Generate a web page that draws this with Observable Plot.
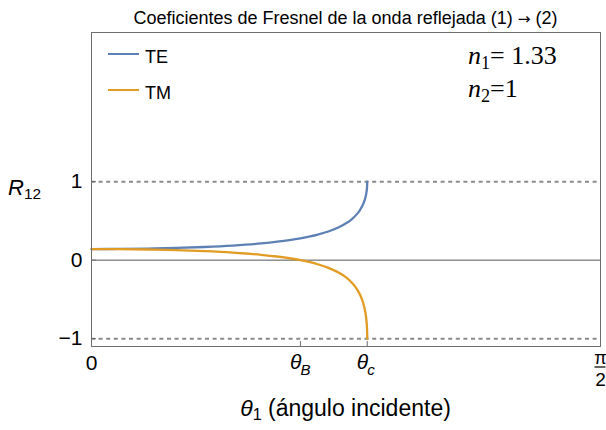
<!DOCTYPE html>
<html><head><meta charset="utf-8">
<script src="https://cdn.jsdelivr.net/npm/d3@7"></script>
<script src="https://cdn.jsdelivr.net/npm/@observablehq/plot@0.6"></script>
<style>
body{margin:0;background:#fff;}
#wrap{position:relative;width:606px;height:430px;font-family:"Liberation Sans",Arial,sans-serif;color:#000;overflow:hidden;}
#wrap svg{position:absolute;left:0;top:0;}
.lbl{position:absolute;white-space:nowrap;line-height:1;}
.lbl sub{font-size:70%;vertical-align:-0.25em;line-height:0;}
.serif{font-family:"Liberation Serif","Times New Roman",serif;}
.arrow{font-family:"DejaVu Sans",sans-serif;font-size:85%;}
.sw{position:absolute;height:0;border-top:2px solid;}
</style></head><body><div id="wrap"></div>
<script>
// incidence angle θ1 (radians)
const thetaRad = [0, 0.08727, 0.17453, 0.26180, 0.34907, 0.43633, 0.52360, 0.61087, 0.64470,
  0.69813, 0.73304, 0.76794, 0.78540, 0.80285, 0.82030, 0.82903, 0.83776, 0.84299, 0.84648,
  0.84910, 0.85032, 0.85067, 0.85091];
const rTE = [0.1416, 0.1431, 0.1476, 0.1555, 0.1678, 0.1861, 0.2133, 0.2551, 0.2780,
  0.3252, 0.3685, 0.4286, 0.4690, 0.5210, 0.5925, 0.6417, 0.7082, 0.7647, 0.8183,
  0.8802, 0.9301, 0.9555, 1.0];
const rTM = [0.1416, 0.1402, 0.1357, 0.1277, 0.1152, 0.0966, 0.0685, 0.0243, 0.0,
  -0.0522, -0.1012, -0.1713, -0.2200, -0.2844, -0.3769, -0.4429, -0.5359, -0.6183, -0.6996,
  -0.7974, -0.8796, -0.9227, -1.0];
const seriesNames = ["TE", "TM"];
const seriesColors = ["#5E81B5", "#E19C24"];
const yTicks = [-1, 0, 1];
const guideLevels = [-1, 1];
const zeroLevel = [0];
const xTicks = [0, 0.6447, 0.8509, 1.5708];
const xTickMain = ["0", "θ", "θ", "π"];
const xTickSub = ["", "B", "c", ""];
const xTickDen = ["", "", "", "2"];
const xDomain = [0, 1.5708];
const yDomain = [-1.1, 2.9];
const titleText = "Coeficientes de Fresnel de la onda reflejada (1) <span class='arrow'>→</span> (2)";
const n1Value = "1.33", n2Value = "1";

const data = thetaRad.flatMap((t, i) => [
  {t, r: rTE[i], s: seriesNames[0]},
  {t, r: rTM[i], s: seriesNames[1]}
]);
const xRows = xTicks.map((v, i) => ({v, main: xTickMain[i], sub: xTickSub[i], den: xTickDen[i]}));
const font = "'Liberation Sans', Arial, sans-serif";

const svg = Plot.plot({
  width: 606, height: 430,
  marginTop: 32, marginRight: 6, marginBottom: 84, marginLeft: 91,
  x: {domain: xDomain},
  y: {domain: yDomain},
  color: {domain: seriesNames, range: seriesColors},
  style: {fontFamily: font, background: "white", color: "#000"},
  marks: [
    Plot.ruleY(guideLevels, {stroke: "#8a8a8a", strokeWidth: 2, strokeDasharray: "4,3.6"}),
    Plot.ruleY(zeroLevel, {stroke: "#555", strokeWidth: 1}),
    Plot.line(data, {x: "t", y: "r", z: "s", stroke: "s", strokeWidth: 2.3, curve: "monotone-x"}),
    Plot.frame({stroke: "#6e6e6e"}),
    Plot.axisY(yTicks, {tickSize: -5, tickPadding: 14, tickFormat: d3.format("d"), stroke: "#6e6e6e", fill: "#000", fontSize: 21, label: null}),
    Plot.axisX(xTicks, {tickSize: -5, tickFormat: () => "", stroke: "#6e6e6e", label: null}),
    Plot.text(xRows.filter(d => !d.sub && !d.den), {x: "v", text: "main", frameAnchor: "bottom", lineAnchor: "top", dy: 9, fontSize: 21}),
    Plot.text(xRows.filter(d => d.sub), {x: "v", text: "main", frameAnchor: "bottom", lineAnchor: "top", dy: 8, dx: 1, textAnchor: "end", fontSize: 21, fontStyle: "italic"}),
    Plot.text(xRows.filter(d => d.sub), {x: "v", text: "sub", frameAnchor: "bottom", lineAnchor: "top", dy: 18, dx: 0, textAnchor: "start", fontSize: 15, fontStyle: "italic"}),
    Plot.text(xRows.filter(d => d.den), {x: "v", text: "main", frameAnchor: "bottom", lineAnchor: "bottom", dy: 17, fontSize: 18}),
    Plot.text(xRows.filter(d => d.den), {x: "v", text: "den", frameAnchor: "bottom", lineAnchor: "top", dy: 26, fontSize: 19})
  ]
});
const wrap = document.getElementById("wrap");
wrap.appendChild(svg);

// fraction bar under π, placed with the plot's own scales
{
  const px = svg.scale("x").apply(xTicks[3]);
  const py = svg.scale("y").apply(yDomain[0]) + 21;
  d3.select(svg).append("line")
    .attr("x1", px - 5.5).attr("x2", px + 5.5)
    .attr("y1", py).attr("y2", py)
    .attr("stroke", "#000").attr("stroke-width", 1.2);
}

function addLabel(html, css, cls) {
  const d = document.createElement("div");
  d.className = "lbl" + (cls ? " " + cls : "");
  d.innerHTML = html;
  Object.assign(d.style, css);
  wrap.appendChild(d);
  return d;
}
addLabel(titleText, {left: "91px", width: "509px", textAlign: "center", top: "8.5px", fontSize: "18px"});
// legend
seriesNames.forEach((name, i) => {
  const top = [54, 90][i];
  const sw = document.createElement("div");
  sw.className = "sw";
  Object.assign(sw.style, {left: "108px", width: "31px", top: (top - 1) + "px", borderTopColor: seriesColors[i]});
  wrap.appendChild(sw);
  addLabel(name, {left: "145px", top: (top - 6) + "px", fontSize: "18px"});
});
addLabel("<i>n</i><sub>1</sub>= " + n1Value, {left: "468px", top: "42.7px", fontSize: "26px"}, "serif");
addLabel("<i>n</i><sub>2</sub>=" + n2Value, {left: "468px", top: "76.2px", fontSize: "26px"}, "serif");
addLabel("<i>R</i><sub>12</sub>", {left: "8px", top: "177px", fontSize: "22px"});
addLabel("<i>θ</i><sub>1</sub> (ángulo incidente)", {left: "91px", width: "509px", textAlign: "center", top: "396.5px", fontSize: "23px"});
</script>
</body></html>
